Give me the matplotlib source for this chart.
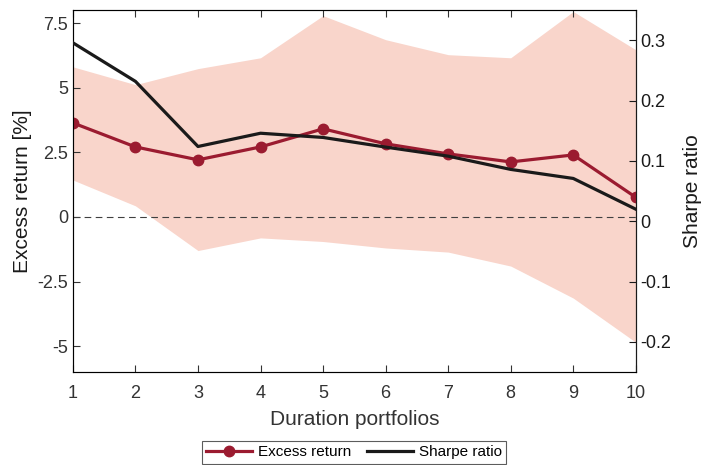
import matplotlib.pyplot as plt
import numpy as np

plt.rcParams['font.family'] = ['Liberation Sans', 'DejaVu Sans']

# data
portfolios = [1, 2, 3, 4, 5, 6, 7, 8, 9, 10]
excess_ret = [3.64, 2.71, 2.21, 2.71, 3.41, 2.83, 2.44, 2.13, 2.40, 0.76]
band_hi = [5.81, 5.12, 5.74, 6.16, 7.79, 6.86, 6.28, 6.16, 7.95, 6.47]
band_lo = [1.43, 0.43, -1.30, -0.81, -0.95, -1.20, -1.36, -1.90, -3.14, -4.85]
sharpe = [0.296, 0.232, 0.124, 0.146, 0.139, 0.123, 0.108, 0.086, 0.071, 0.020]

red = '#9b1b30'
band_col = '#f9d5cb'
dark = '#333333'

fig = plt.figure(figsize=(7.01, 4.65), dpi=100)
ax = fig.add_axes([0.104, 0.2, 0.803, 0.778])

ax.fill_between(portfolios, band_lo, band_hi, color=band_col, lw=0, zorder=1)
ax.axhline(0, color='#404040', ls=(0, (6, 4)), lw=0.8, zorder=2)
l1, = ax.plot(portfolios, excess_ret, color=red, lw=2.3, marker='o', ms=7.5,
              zorder=4, label='Excess return')

ax.set_xlim(1, 10)
ax.set_ylim(-6, 8)
ax.set_xticks(portfolios)
ax.set_yticks([-5, -2.5, 0, 2.5, 5, 7.5])
ax.set_yticklabels(['-5', '-2.5', '0', '2.5', '5', '7.5'])
ax.tick_params(direction='in', length=5, labelsize=13, colors=dark, top=True)
ax.tick_params(axis='x', pad=9)
ax.set_xlabel('Duration portfolios', fontsize=15, color=dark, labelpad=6)
ax.set_ylabel('Excess return [%]', fontsize=15, color='#1a1a1a', labelpad=4)
for s in ['left', 'bottom', 'top']:
    ax.spines[s].set_color('#555555')

ax2 = ax.twinx()
l2, = ax2.plot(portfolios, sharpe, color='#1a1a1a', lw=2.3, zorder=3, label='Sharpe ratio')
ax2.set_ylim(-0.25, 0.35)
ax2.set_yticks([-0.2, -0.1, 0, 0.1, 0.2, 0.3])
ax2.set_yticklabels(['-0.2', '-0.1', '0', '0.1', '0.2', '0.3'])
ax2.tick_params(direction='in', length=5, labelsize=13, colors='#1a1a1a')
ax2.set_ylabel('Sharpe ratio', fontsize=15, color='#1a1a1a', labelpad=8)
ax2.spines['right'].set_color('#1a1a1a')

leg = fig.legend(handles=[l1, l2], loc='upper center', bbox_to_anchor=(0.505, 0.052),
                 ncol=2, fontsize=11, frameon=True, fancybox=False, edgecolor='#333333',
                 handlelength=3, columnspacing=1.0, borderpad=0.3, handletextpad=0.4,
                 borderaxespad=0)
leg.get_frame().set_linewidth(0.8)

fig.savefig('out.png', dpi=100)
